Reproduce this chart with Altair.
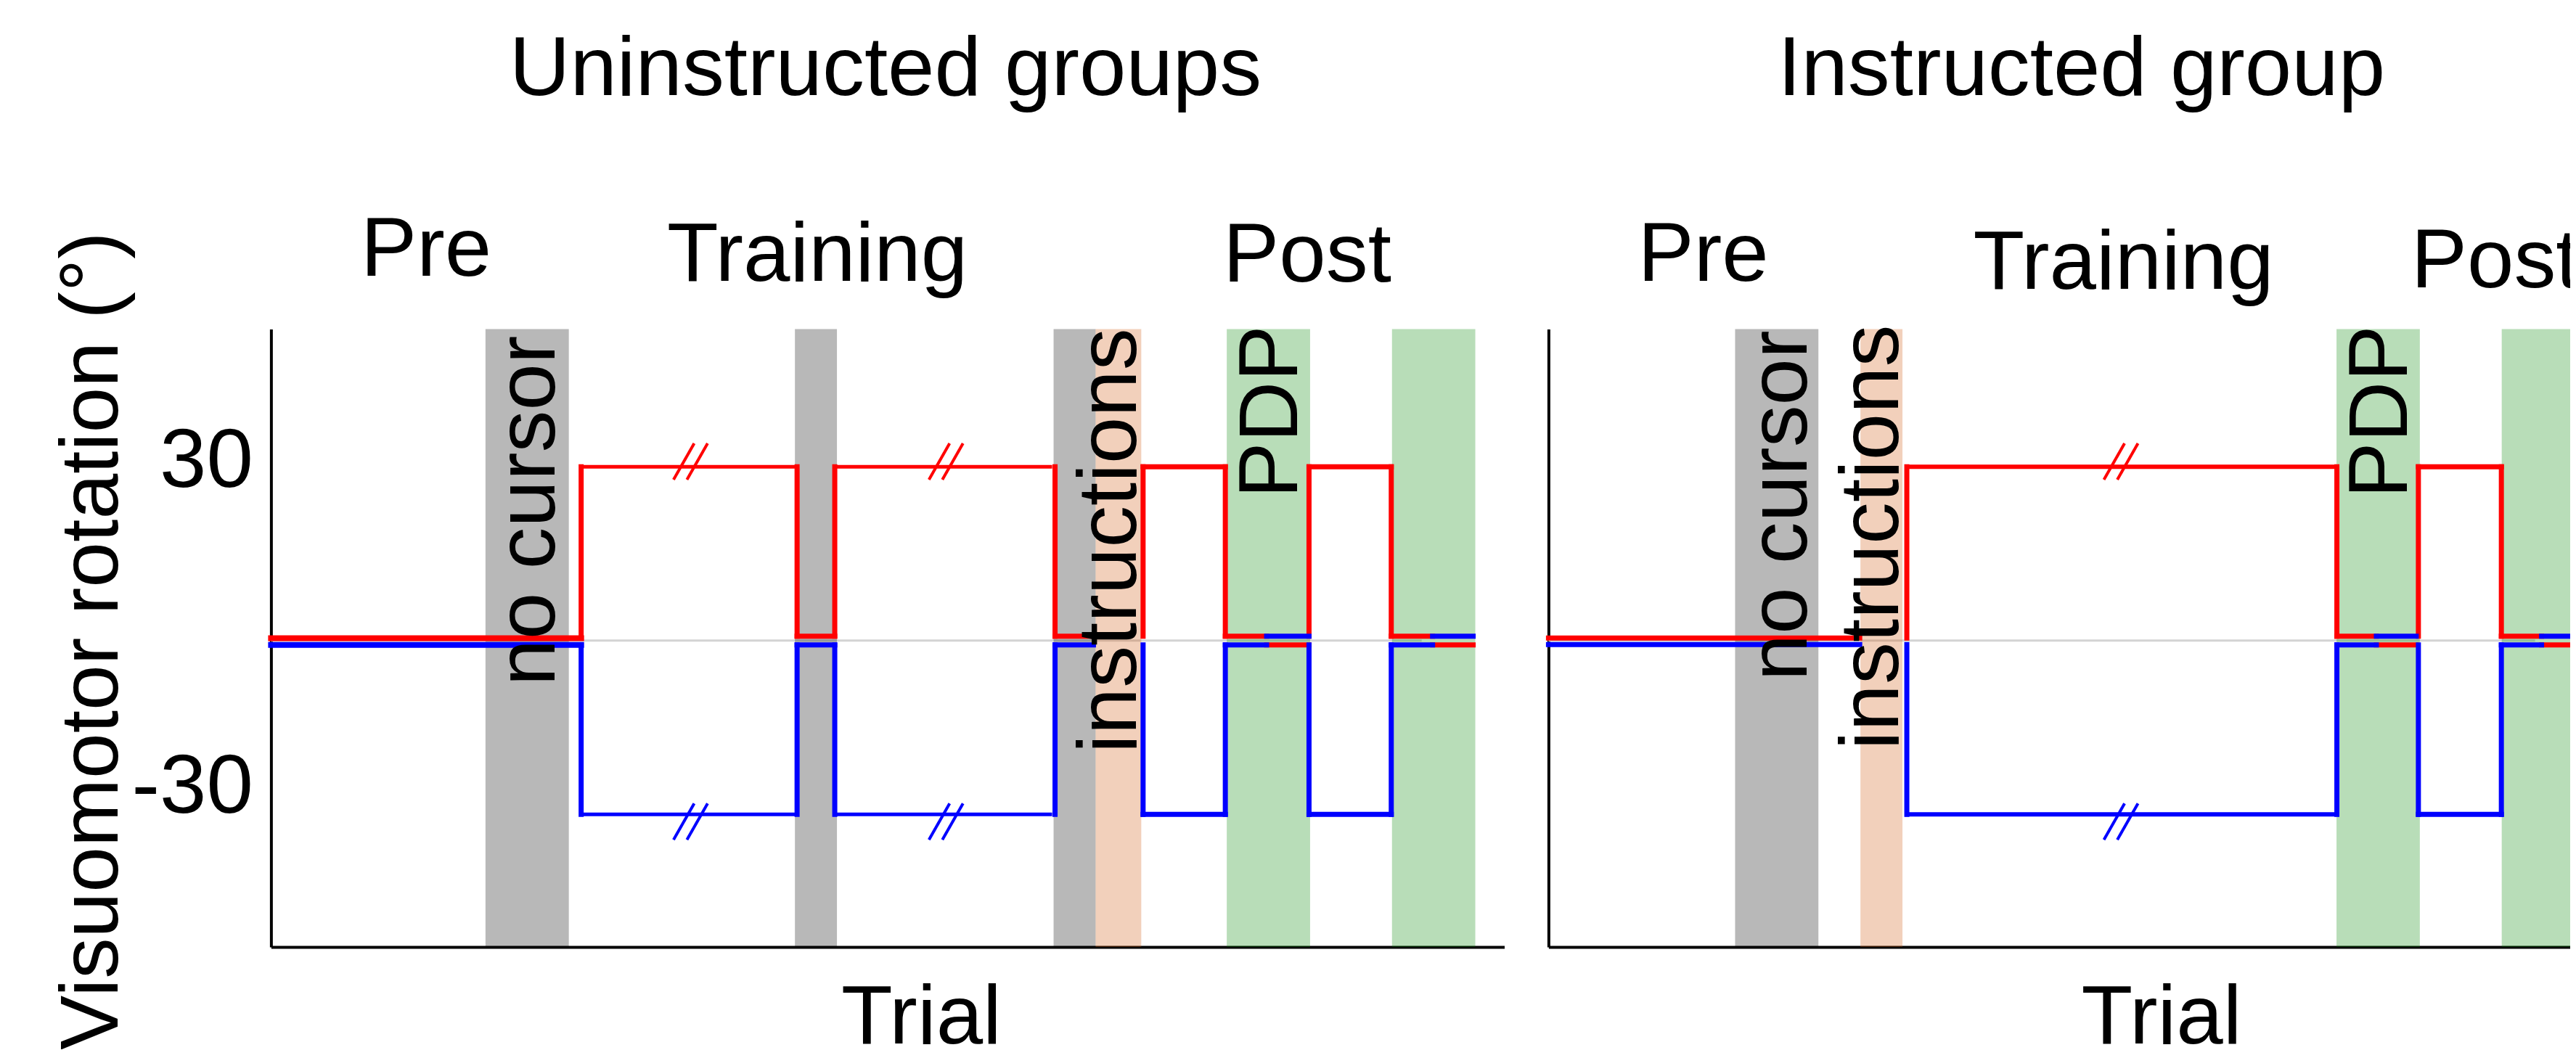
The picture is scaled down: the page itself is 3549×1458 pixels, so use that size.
import altair as alt
import pandas as pd

FONT = "Liberation Sans"
FS = 116

# ---------------- data ----------------
y_tick_values = [30, -30]
y_tick_labels = ["30", "-30"]
y_title = "Visuomotor rotation (°)"
x_title = "Trial"
Y_DOMAIN = [-52.875, 53.75]

band_types = ["no cursor", "instructions", "PDP"]
band_colors = ["#000000", "#d15709", "#008600"]
groups = ["red", "blue"]
group_colors = {"red": "#ff0000", "blue": "#0000ff"}
weights = ["heavy", "normal", "medium", "thin"]
weight_px = [8, 5, 4, 2]

# Uninstructed groups (left panel), x in trial units
L_title = "Uninstructed groups"
L_x_domain = [0, 340.4]
L_phases = ["Pre", "Training", "Post"]
L_band_start = [59.2, 144.6, 216.0, 227.6, 263.8, 309.4]
L_band_end = [82.2, 156.2, 227.6, 240.2, 286.8, 332.4]
L_band_type = ["no cursor", "no cursor", "no cursor", "instructions", "PDP", "PDP"]
L_band_labels = ["no cursor", "instructions", "PDP"]
L_block_start = [0, 85.6, 145.2, 155.6, 216.4, 240.7, 263.4, 274.8, 286.5, 309.2, 320.6]
L_block_end = [85.6, 145.2, 155.6, 215.1, 227.0, 263.4, 274.8, 286.5, 309.2, 320.6, 331.8]
L_red = [0.4, 30, 0.75, 30, 0.75, 30, 0.75, -0.75, 30, 0.75, -0.75]
L_blue = [-0.75, -30, -0.75, -30, -0.75, -30, -0.75, 0.75, -30, -0.75, 0.75]
L_weight = ["heavy", "thin", "normal", "thin", "normal", "normal", "normal",
            "normal", "normal", "normal", "normal"]
L_zero_end = 317.6

# Instructed group (right panel)
R_title = "Instructed group"
R_x_domain = [0, 294]
R_phases = ["Pre", "Training", "Post"]
R_band_start = [51.5, 86.1, 217.5, 263.1]
R_band_end = [74.5, 97.7, 240.5, 286.1]
R_band_type = ["no cursor", "instructions", "PDP", "PDP"]
R_band_labels = ["no cursor", "instructions", "PDP"]
R_block_start = [0, 98.9, 217.6, 228.5, 240.1, 263.0, 274.1]
R_block_end = [85.9, 217.6, 228.5, 239.5, 263.0, 274.1, 285.6]
R_red = [0.45, 30, 0.75, -0.75, 30, 0.75, -0.75]
R_blue = [-0.7, -30, -0.75, 0.75, -30, -0.75, 0.75]
R_weight = ["normal", "medium", "normal", "normal", "normal", "normal", "normal"]
R_zero_end = 272.3

# ---------------- layout (label anchors, break marks) ----------------
LAYOUT = {
    "L": {
        "width": 1702, "trial_x": 897,
        "title_xy": (169.6, 94.1),
        "phase_x": [42.8, 150.8, 286.0], "phase_y": [62.9, 62.1, 62.0],
        "band_label_x": [78.2, 238.8, 283.2], "band_label_y": [52.6, 53.9, 54.4],
        "break_x": [115.8, 186.3],
    },
    "R": {
        "width": 1470, "trial_x": 845.5,
        "title_xy": (147.1, 94.1),
        "phase_x": [42.7, 158.7, 261.3], "phase_y": [62.1, 60.75, 61.0],
        "band_label_x": [71.2, 96.5, 236.9], "band_label_y": [53.5, 54.5, 54.4],
        "break_x": [158.0],
    },
}
BREAK_LEVEL = {"red": 30.9, "blue": -31.25}
SLASH_GAP, SLASH_DX, SLASH_DY = 3.7, 5.7, 6.25
PLOT_H = 853


def step_segments(starts, ends, levels, wts):
    rows = []
    for i, (s, e, lv, w) in enumerate(zip(starts, ends, levels, wts)):
        rows.append(dict(x=s, x2=e, y=lv, y2=lv, weight=w))
        if i + 1 < len(levels):
            nxt = levels[i + 1]
            if abs(lv) < 5 and abs(nxt) < 5:
                continue
            start = (abs(lv) if nxt > 0 else -abs(lv)) if abs(lv) < 5 else lv
            rows.append(dict(x=starts[i + 1], x2=starts[i + 1], y=start, y2=nxt,
                             weight="normal"))
    return pd.DataFrame(rows)


def break_marks(centers, group):
    lv = BREAK_LEVEL[group]
    rows = []
    for c in centers:
        for off in (-SLASH_GAP / 2, SLASH_GAP / 2):
            rows.append(dict(x=c + off - SLASH_DX / 2, x2=c + off + SLASH_DX / 2,
                             y=lv - SLASH_DY / 2, y2=lv + SLASH_DY / 2))
    return pd.DataFrame(rows)


label_expr = " : ".join(
    f"datum.value == {v} ? '{t}'" for v, t in zip(y_tick_values, y_tick_labels)
) + " : ''"


def panel(key, title, x_domain, phases, b_start, b_end, b_type, b_labels,
          k_start, k_end, red, blue, wts, zero_end, show_y):
    lay = LAYOUT[key]
    xs = alt.Scale(domain=x_domain, nice=False, zero=False)
    ys = alt.Scale(domain=Y_DOMAIN, nice=False, zero=False)
    x_axis = alt.Axis(title=x_title, labels=False, ticks=False, grid=False,
                      domainColor="black", domainWidth=4,
                      titleFont=FONT, titleFontSize=FS, titleFontWeight="normal",
                      titleColor="black", titleX=lay["trial_x"], titleY=133,
                      titleAlign="center", titleBaseline="alphabetic")
    if show_y:
        y_axis = alt.Axis(values=y_tick_values, labelExpr=label_expr, ticks=False,
                          tickSize=0, grid=False, domainColor="black", domainWidth=4,
                          labelFont=FONT, labelFontSize=FS, labelColor="black",
                          labelPadding=25,
                          labelOffset={"condition": {"test": "datum.value > 0", "value": -8},
                                       "value": -38},
                          title=y_title, titleFont=FONT, titleFontSize=113,
                          titleFontWeight="normal", titleColor="black",
                          titleAngle=270, titleAlign="center", titleBaseline="alphabetic",
                          titleX=-212, titleY=430)
    else:
        y_axis = alt.Axis(labels=False, ticks=False, grid=False, title=None,
                          domainColor="black", domainWidth=4)

    X = lambda: alt.X("x:Q", scale=xs, axis=x_axis)
    Y = lambda: alt.Y("y:Q", scale=ys, axis=y_axis)

    layers = []
    layers.append(alt.Chart(pd.DataFrame({"x": [0], "x2": [zero_end], "y": [0]})).mark_rule(
        color="#d3d3d3", strokeWidth=3
    ).encode(x=X(), x2="x2:Q", y=Y()))

    layers.append(alt.Chart(pd.DataFrame({"x": b_start, "x2": b_end, "type": b_type})).mark_rect(
        opacity=0.28
    ).encode(
        x=X(), x2="x2:Q",
        color=alt.Color("type:N", scale=alt.Scale(domain=band_types, range=band_colors),
                        legend=None),
    ))

    for g, levels in (("red", red), ("blue", blue)):
        layers.append(alt.Chart(step_segments(k_start, k_end, levels, wts)).mark_rule(
            strokeCap="square", color=group_colors[g]
        ).encode(
            x=X(), x2="x2:Q", y=Y(), y2="y2:Q",
            strokeWidth=alt.StrokeWidth("weight:N",
                                        scale=alt.Scale(domain=weights, range=weight_px),
                                        legend=None),
        ))

    for g in groups:
        layers.append(alt.Chart(break_marks(lay["break_x"], g)).mark_rule(
            strokeWidth=4, color=group_colors[g]
        ).encode(x=X(), x2="x2:Q", y=Y(), y2="y2:Q"))

    txt = dict(font=FONT, fontSize=FS, color="black", baseline="alphabetic")
    phase_df = pd.DataFrame({"t": phases, "x": lay["phase_x"], "y": lay["phase_y"]})
    layers.append(alt.Chart(phase_df).mark_text(align="center", **txt).encode(
        x=X(), y=Y(), text="t:N"))

    bl_df = pd.DataFrame({"t": b_labels, "x": lay["band_label_x"], "y": lay["band_label_y"]})
    layers.append(alt.Chart(bl_df).mark_text(align="right", angle=270, **txt).encode(
        x=X(), y=Y(), text="t:N"))

    tx, ty = lay["title_xy"]
    layers.append(alt.Chart(pd.DataFrame({"t": [title], "x": [tx], "y": [ty]})).mark_text(
        align="center", **txt).encode(x=X(), y=Y(), text="t:N"))

    return alt.layer(*layers).properties(width=lay["width"], height=PLOT_H)


left = panel("L", L_title, L_x_domain, L_phases, L_band_start, L_band_end, L_band_type,
             L_band_labels, L_block_start, L_block_end, L_red, L_blue, L_weight,
             L_zero_end, True)
right = panel("R", R_title, R_x_domain, R_phases, R_band_start, R_band_end, R_band_type,
              R_band_labels, R_block_start, R_block_end, R_red, R_blue, R_weight,
              R_zero_end, False)

chart = alt.hconcat(left, right, spacing=56).properties(
    padding={"left": 63, "top": 29, "right": -60, "bottom": -16},
    background="white",
).configure_view(stroke=None)

chart.save("out.html", embed_options={"renderer": "svg", "actions": False})
